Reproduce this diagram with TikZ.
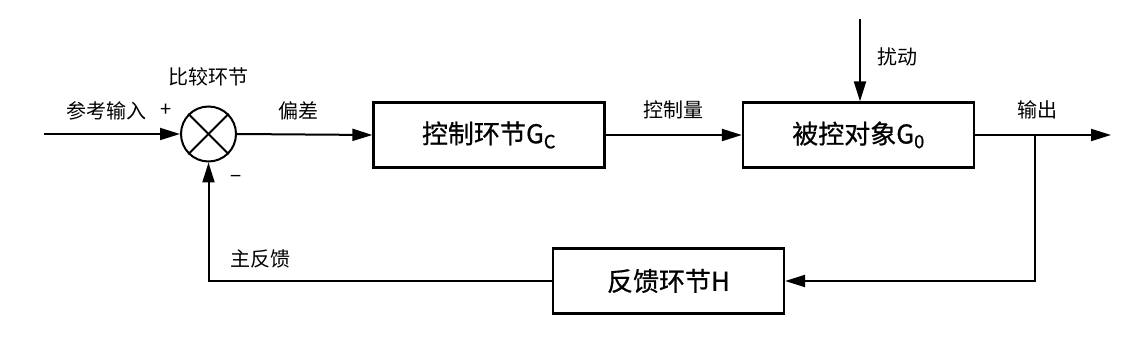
\documentclass[tikz,border=0pt]{standalone}
\usepackage{fontspec}
\setmainfont{Noto Sans CJK SC}
\newfontfamily\boxfont[FakeBold=0.7]{Noto Sans CJK SC}
\usetikzlibrary{arrows.meta}
\begin{document}
\begin{tikzpicture}[x=1pt,y=-1pt,
  arr/.style={line width=2pt,-{Triangle[length=20pt,width=12pt]}},
  ln/.style={line width=2pt},
  blk/.style={draw,line width=2.2pt,minimum width=231pt,minimum height=65pt,inner sep=0pt,font=\boxfont\fontsize{26}{30}\selectfont},
  lbl/.style={font=\fontsize{20}{24}\selectfont,inner sep=0pt}]
\useasboundingbox (0,0) rectangle (1141,344);
% nodes
\node[draw,circle,minimum size=55pt,line width=2pt,inner sep=0pt] (sum) at (208.5,134) {};
\node[blk] (ctrl) at (489,135) {控制环节G\textsubscript{C}};
\node[blk] (plant) at (858.5,135) {被控对象G\textsubscript{0}};
\node[blk] (fb) at (668.5,281) {反馈环节H};
\coordinate (in) at (44,134);
\coordinate (out) at (1111,135);
\coordinate (br) at (1035,135);
\coordinate (dist) at (860,19);
% cross in summing junction
\draw[ln] (sum.north west) -- (sum.south east);
\draw[ln] (sum.north east) -- (sum.south west);
% connectors
\draw[arr] (in) -- (sum.west);
\draw[arr] (sum.east) -- (ctrl.west);
\draw[arr] (ctrl.east) -- (plant.west);
\draw[arr] (plant.east) -- (out);
\draw[arr] (dist) -- (dist |- plant.north);
\draw[arr] (br) |- (fb.east);
\draw[arr] (fb.west) -| (sum.south);
% labels
\node[lbl] (l1) at (208,77) {比较环节};
\node[lbl] (l2) at (106,111) {参考输入};
\node[lbl] (l3) at (166,110) {+};
\node[lbl] (l4) at (298,111) {偏差};
\node[lbl] (l5) at (673,110) {控制量};
\node[lbl] (l6) at (897,57) {扰动};
\node[lbl] (l7) at (1037,110) {输出};
\node[lbl] (l8) at (236,179) {−};
\node[lbl] (l9) at (260,259) {主反馈};
\end{tikzpicture}
\end{document}
